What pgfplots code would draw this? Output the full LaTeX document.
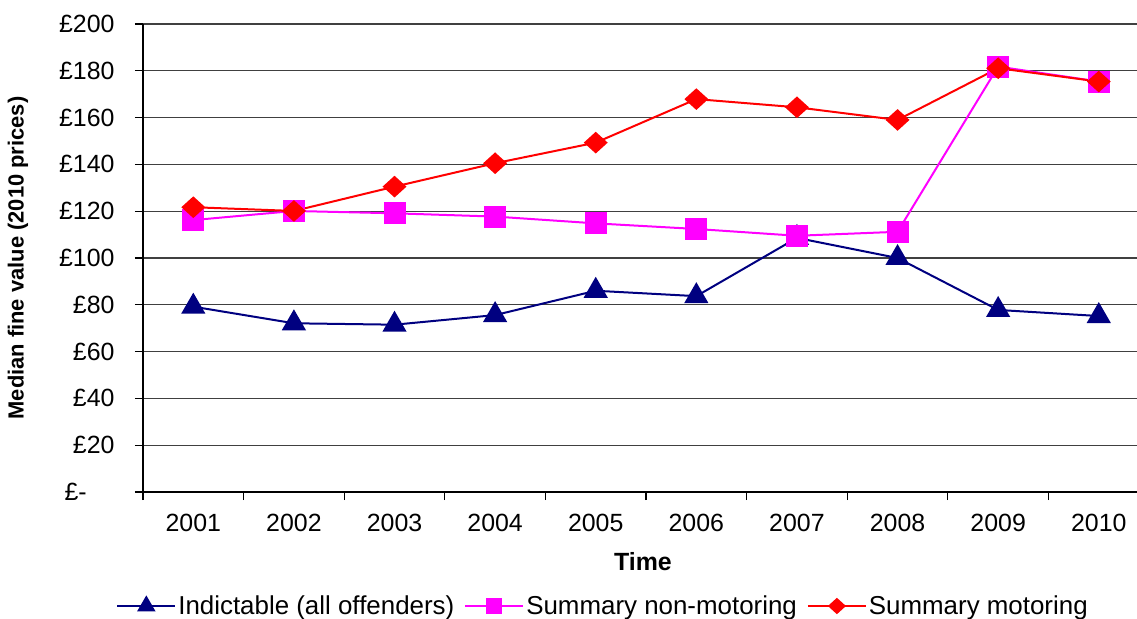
\documentclass[border=0pt]{standalone}
\usepackage{fontspec}
\setmainfont{Liberation Sans}
\usepackage{pgfplots}
\pgfplotsset{compat=1.18}
\definecolor{navyc}{RGB}{0,0,128}
\definecolor{magc}{RGB}{255,0,255}
\definecolor{redc}{RGB}{255,0,0}
\begin{document}
\begin{tikzpicture}
\begin{axis}[
  scale only axis, width=994bp, height=468bp,
  at={(0,0)}, anchor=south west,
  xmin=-0.5, xmax=9.38, ymin=0, ymax=200,
  axis lines*=left,
  axis line style={black, line width=2bp},
  xtick={-0.5,0.5,...,8.5}, xticklabels={},
  extra x ticks={0,1,2,3,4,5,6,7,8,9},
  extra x tick labels={2001,2002,2003,2004,2005,2006,2007,2008,2009,2010},
  extra x tick style={major tick length=0pt},
  ytick={0,20,...,200},
  yticklabels={£-\phantom{00},£20,£40,£60,£80,£100,£120,£140,£160,£180,£200},
  tick align=outside,
  major tick length=8bp,
  tick style={black, line width=1.2bp},
  ymajorgrids, grid style={black!75, line width=1.2bp},
  tick label style={font=\fontsize{25}{30}\selectfont},
  xticklabel style={yshift=-19bp},
  yticklabel style={xshift=-17bp},
  xlabel={Time}, ylabel={Median fine value (2010 prices)},
  xlabel style={font=\fontsize{25}{30}\selectfont\bfseries, at={(axis description cs:0.503,-0.1496)}, anchor=center},
  ylabel style={font=\fontsize{22}{26}\selectfont\bfseries, at={(axis description cs:-0.1258,0.5)}, anchor=center},
  legend columns=3,
  legend style={draw=none, fill=none, font=\fontsize{26}{31}\selectfont,
    at={(axis description cs:0.4628,-0.2436)}, anchor=center,
    /tikz/every even column/.append style={column sep=8bp}},
  legend image code/.code={\draw[mark repeat=2,mark phase=2,every mark/.append style={scale=0.72}] plot coordinates {(0bp,0bp) (29bp,0bp) (58bp,0bp)};},
]
\addplot[navyc, line width=2bp, mark=triangle*, mark size=12bp, mark options={solid}] coordinates {
 (0,79.2) (1,72.1) (2,71.5) (3,75.6) (4,86.0) (5,83.7) (6,108.6) (7,100.0) (8,77.8) (9,75.2)};
\addlegendentry{Indictable (all offenders)}
\addplot[magc, line width=2bp, mark=square*, mark size=10bp, mark options={solid}] coordinates {
 (0,116.2) (1,120.1) (2,119.1) (3,117.7) (4,114.8) (5,112.4) (6,109.5) (7,111.2) (8,181.8) (9,175.4)};
\addlegendentry{Summary non-motoring}
\addplot[redc, line width=2bp, mark=diamond*, mark size=9.5bp, mark options={solid, xscale=1.47}] coordinates {
 (0,121.7) (1,120.1) (2,130.5) (3,140.5) (4,149.3) (5,167.9) (6,164.4) (7,159.0) (8,181.1) (9,175.4)};
\addlegendentry{Summary motoring}
\end{axis}
\pgfresetboundingbox
\useasboundingbox (-143bp,-127bp) rectangle (994bp,492bp);
\end{tikzpicture}
\end{document}
